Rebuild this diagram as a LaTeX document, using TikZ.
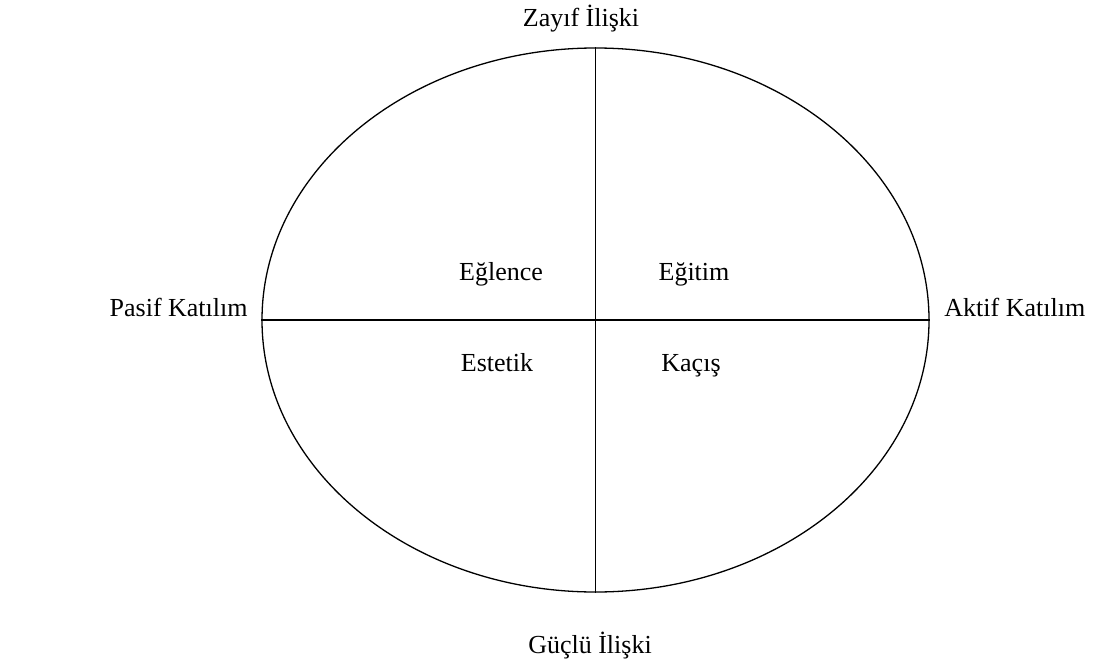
\documentclass[tikz,border=0pt]{standalone}
\usepackage{fontspec}
\setmainfont{Liberation Serif}
\usepackage{tikz}
\usetikzlibrary{positioning,shapes.geometric}
\tikzset{
  quadln/.style={line width=0.65pt},
  txtlab/.style={font=\fontsize{13}{15}\selectfont,inner sep=0pt},
}
\begin{document}
\begin{tikzpicture}[x=0.5pt,y=-0.5pt]
        \useasboundingbox (0,0) rectangle (1095,663);
        % dis elips
        \node[quadln,draw,ellipse,minimum width=333.5pt,minimum height=272pt,inner sep=0pt]
              (oval) at (595.5,320) {};
        % eksenler
        \draw[quadln] (oval.north) -- (oval.south);
        \draw[quadln] (oval.west) -- (oval.east);
        % eksen uclari
        \node[txtlab,anchor=base] (zayif) at (581,27) {Zayıf İlişki};
        \node[txtlab,anchor=base] (guclu) at (590,653) {Güçlü İlişki};
        \node[txtlab,anchor=base east] (pasif) at (248,316) {Pasif Katılım};
        \node[txtlab,anchor=base west] (aktif) at (944,316) {Aktif Katılım};
        % dort alan
        \node[txtlab,anchor=base] (eglence) at (501,280) {Eğlence};
        \node[txtlab,anchor=base] (egitim) at (694,280) {Eğitim};
        \node[txtlab,anchor=base] (estetik) at (497,371) {Estetik};
        \node[txtlab,anchor=base] (kacis) at (691,371) {Kaçış};
      \end{tikzpicture}
\end{document}
